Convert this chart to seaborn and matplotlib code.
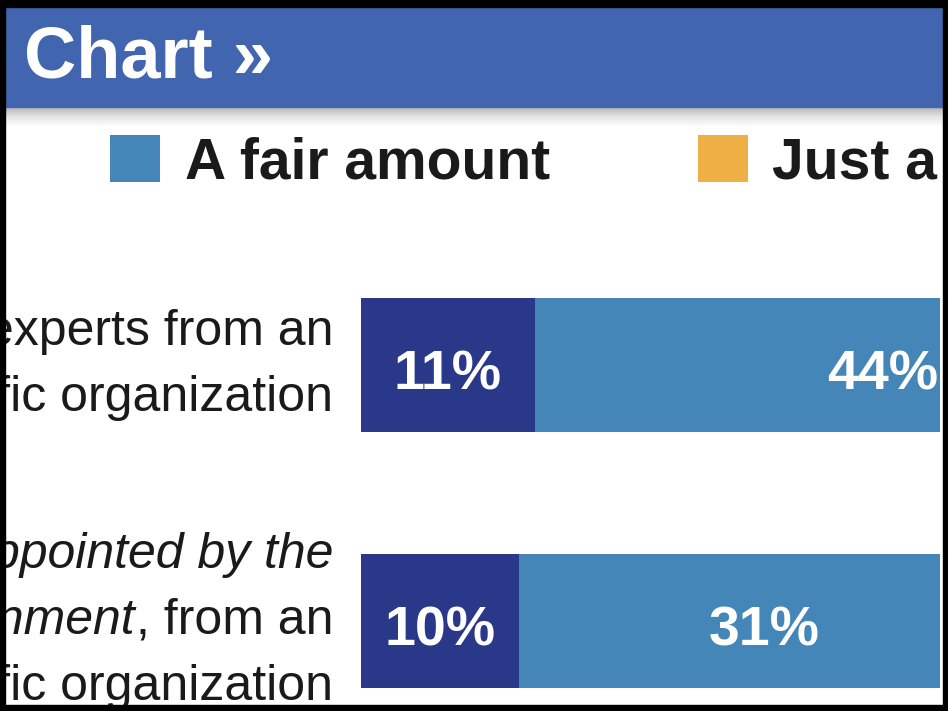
import numpy as np
import pandas as pd
import seaborn as sns
import matplotlib
matplotlib.use("Agg")
import matplotlib.pyplot as plt
from matplotlib.patches import Rectangle, Patch
from matplotlib import transforms
from matplotlib.colors import LinearSegmentedColormap

# ---------------- data ----------------
categories = [
    "Scientific experts from an independent scientific organization",
    "Experts appointed by the government, from an independent scientific organization",
]
# label lines: list of (text, style) segments per line
category_lines = [
    [[("Scientific experts from an", "normal")],
     [("independent scientific organization", "normal")]],
    [[("Experts appointed by the", "italic")],
     [("government", "italic"), (", from an", "normal")],
     [("independent scientific organization", "normal")]],
]
great_deal = [11, 10]
fair_amount = [44, 31]
legend_labels = ["A fair amount", "Just a little"]
title = "Chart »"

# ---------------- style ----------------
sns.set_style("white")
plt.rcParams["font.family"] = ["Liberation Sans", "DejaVu Sans"]

NAVY = "#2A3889"
BLUE = "#4386B7"
ORANGE = "#EEAF45"
HEADER = "#4166AF"
TEXT = "#1a1a1a"

W, H = 948, 711
fig = plt.figure(figsize=(W / 100, H / 100), dpi=100)
fig.patch.set_facecolor("white")


def fx(px):
    return px / W


def fy(py):  # pixels from top -> figure fraction
    return 1 - py / H


# header
fig.add_artist(Rectangle((fx(5), fy(107)), (943 - 5) / W, (107 - 7) / H,
                         transform=fig.transFigure, color=HEADER, zorder=1))
fig.text(fx(24), fy(78), title, color="white", fontsize=52, fontweight="bold",
         ha="left", va="baseline", zorder=5)

# shadow under header
ax_s = fig.add_axes([fx(5), fy(127), (943 - 5) / W, 20 / H])
cmap = LinearSegmentedColormap.from_list("sh", ["#b4b4b4", "#e6e6e6", "#ffffff"])
ax_s.imshow(np.linspace(0, 1, 64).reshape(-1, 1), cmap=cmap, aspect="auto")
ax_s.axis("off")

# legend
handles = [Patch(facecolor=BLUE, edgecolor="none"), Patch(facecolor=ORANGE, edgecolor="none")]
fig.legend(handles, legend_labels, loc="upper left", bbox_to_anchor=(fx(110), fy(135)),
           ncol=2, frameon=False,
           prop={"size": 41, "weight": "bold"}, labelcolor=TEXT,
           handlelength=0.88, handleheight=0.9, handletextpad=0.43,
           columnspacing=2.6, borderpad=0, borderaxespad=0)

# bars
ax = fig.add_axes([fx(361), (H - 749) / H, (940 - 361) / W, 512 / H])
df = pd.DataFrame({
    "category": categories,
    "great_deal": great_deal,
    "cum_fair": np.array(great_deal) + np.array(fair_amount),
})
sns.barplot(data=df, y="category", x="cum_fair", color=BLUE, saturation=1,
            width=0.52, orient="h", ax=ax, linewidth=0)
sns.barplot(data=df, y="category", x="great_deal", color=NAVY, saturation=1,
            width=0.52, orient="h", ax=ax, linewidth=0)
ax.set_xlim(0, 36.6)
ax.set_ylim(1.5, -0.5)
ax.axis("off")

val_tr = transforms.offset_copy(ax.transData, fig=fig, x=0, y=-25, units="dots")
for i, (gd, fa) in enumerate(zip(great_deal, fair_amount)):
    ax.text(gd / 2, i, f"{gd}%", transform=val_tr, ha="center", va="baseline",
            color="white", fontsize=40, fontweight="bold", clip_on=True)
    ax.text(gd + fa / 2, i, f"{fa}%", transform=val_tr, ha="center", va="baseline",
            color="white", fontsize=40, fontweight="bold", clip_on=True)

# category labels
renderer = fig.canvas.get_renderer()
blend = transforms.blended_transform_factory(fig.transFigure, ax.transData)
LINE = 66
BASE = 13
for i, lines in enumerate(category_lines):
    n = len(lines)
    for j, segs in enumerate(lines):
        off = BASE + (j - (n - 1) / 2) * LINE
        tr = transforms.offset_copy(blend, fig=fig, x=0, y=-off, units="dots")
        xr = fx(333)
        for txt, style in reversed(segs):
            t = ax.text(xr, i, txt, transform=tr, ha="right", va="baseline",
                        fontsize=36, style=style, color=TEXT, clip_on=False)
            bb = t.get_window_extent(renderer=renderer)
            xr = bb.x0 / fig.bbox.width

# black frame
for (x0, y0, w, h) in [(0, 0, 5, H), (943, 0, 5, H), (0, 0, W, 7), (0, 705, W, 6)]:
    fig.add_artist(Rectangle((x0 / W, 1 - (y0 + h) / H), w / W, h / H,
                             transform=fig.transFigure, color="black", zorder=100))

fig.savefig("out.png", dpi=100)
